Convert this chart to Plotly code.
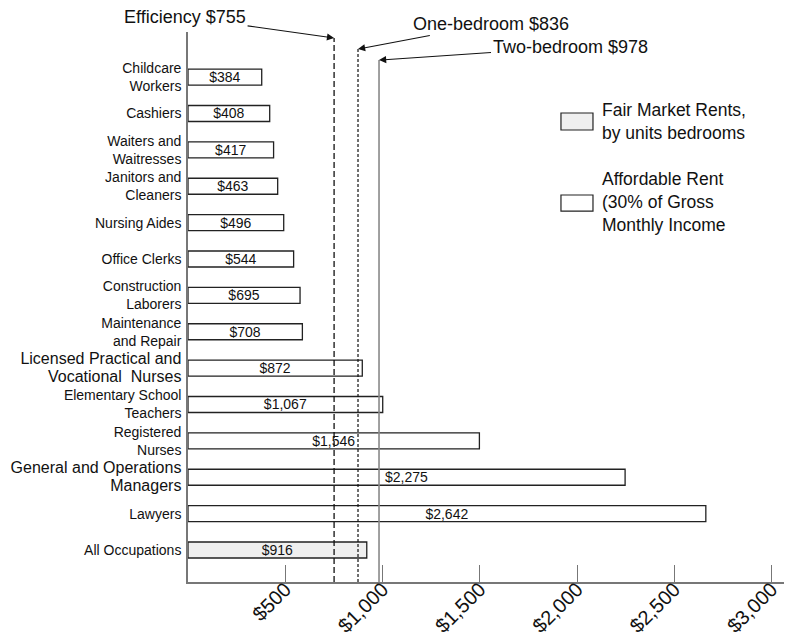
import plotly.graph_objects as go

# ---------------- data ----------------
occupations = [
    "Childcare<br>Workers",
    "Cashiers",
    "Waiters and<br>Waitresses",
    "Janitors and<br>Cleaners",
    "Nursing Aides",
    "Office Clerks",
    "Construction<br>Laborers",
    "Maintenance<br>and Repair",
    "<span style='font-size:16px'>Licensed Practical and</span><br><span style='font-size:16px'>Vocational\u00a0 Nurses</span>",
    "Elementary School<br>Teachers",
    "Registered<br>Nurses",
    "<span style='font-size:16px'>General and Operations</span><br><span style='font-size:16px'>Managers</span>",
    "Lawyers",
    "All Occupations",
]
# bar lengths as drawn in the picture
affordable_rent = [379, 420, 440, 461, 492, 543, 576, 588, 896, 1001, 1498, 2247, 2662, 919]
# value labels printed on the bars
rent_labels = ["$384", "$408", "$417", "$463", "$496", "$544", "$695", "$708",
               "$872", "$1,067", "$1,546", "$2,275", "$2,642", "$916"]

fmr_names = ["Efficiency $755", "One-bedroom $836", "Two-bedroom $978"]
fmr_values = [751, 874, 982]

x_ticks = [500, 1000, 1500, 2000, 2500, 3000]
x_tick_labels = ["$500", "$1,000", "$1,500", "$2,000", "$2,500", "$3,000"]

FONT = "Arial, Liberation Sans, sans-serif"

fills = ["white"] * (len(occupations) - 1) + ["#efefef"]

fig = go.Figure()
fig.add_trace(go.Bar(
    y=occupations,
    x=affordable_rent,
    orientation="h",
    width=0.44,
    marker=dict(color=fills, line=dict(color="#222222", width=1.3)),
    text=rent_labels,
    textposition="inside",
    insidetextanchor="middle",
    textangle=0,
    constraintext="none",
    textfont=dict(family=FONT, size=14, color="#111111"),
    hoverinfo="skip",
    showlegend=False,
))

# Fair market rent lines
line_styles = [
    dict(color="#111111", width=1.3, dash="6px,3px"),
    dict(color="#111111", width=1.2, dash="3px,2px"),
    dict(color="#888888", width=1.6, dash="solid"),
]
line_tops = [0.989, 0.969, 0.949]
label_offsets = [(-149, -21), (133, -25), (191, -13)]
for name, val, style, top, (ax, ay) in zip(fmr_names, fmr_values, line_styles, line_tops, label_offsets):
    fig.add_shape(type="line", xref="x", yref="paper", x0=val, x1=val, y0=0, y1=top,
                  line=style, layer="above")
    fig.add_annotation(x=val, y=top, xref="x", yref="paper", text=name,
                       showarrow=True, ax=ax, ay=ay, arrowhead=2, arrowsize=1.3,
                       arrowwidth=1.1, arrowcolor="#111111",
                       font=dict(family=FONT, size=18, color="#111111"))

# Legend built from shapes + text
fig.add_shape(type="rect", xref="paper", yref="paper", x0=0.6175, x1=0.6705, y0=0.8218, y1=0.8527,
              fillcolor="#efefef", line=dict(color="#222222", width=1.2))
fig.add_shape(type="rect", xref="paper", yref="paper", x0=0.6175, x1=0.6705, y0=0.6745, y1=0.7036,
              fillcolor="white", line=dict(color="#222222", width=1.2))
fig.add_annotation(x=0.682, y=0.838, xref="paper", yref="paper", xanchor="left", yanchor="middle",
                   align="left", showarrow=False,
                   text="Fair Market Rents,<br>by units bedrooms",
                   font=dict(family=FONT, size=17.5, color="#111111"))
fig.add_annotation(x=0.682, y=0.6915, xref="paper", yref="paper", xanchor="left", yanchor="middle",
                   align="left", showarrow=False,
                   text="Affordable Rent<br>(30% of Gross<br>Monthly Income",
                   font=dict(family=FONT, size=17.5, color="#111111"))

# page body adds an 8px offset, so margins are shifted accordingly
fig.update_layout(
    width=792, height=640,
    margin=dict(l=180, r=8, t=24, b=66, autoexpand=False),
    paper_bgcolor="white", plot_bgcolor="white",
    font=dict(family=FONT, color="#111111"),
    bargap=0.5,
)
fig.update_xaxes(
    range=[0, 3105], tickvals=x_ticks, ticktext=x_tick_labels, tickangle=-45,
    ticks="inside", ticklen=17, tickcolor="#777777", tickwidth=1.2,
    showline=True, linecolor="#777777", linewidth=1.6,
    showgrid=False, zeroline=False, automargin=False, ticklabelstandoff=-14,
    tickfont=dict(family=FONT, size=20, color="#111111"),
)
fig.update_yaxes(
    type="category", categoryorder="array", categoryarray=occupations[::-1],
    range=[-0.88, 14.24],
    showline=True, linecolor="#777777", linewidth=1.6,
    showgrid=False, zeroline=False, ticks="", ticklabelstandoff=2, automargin=False,
    tickfont=dict(family=FONT, size=14, color="#111111"),
)

fig.write_html("out.html")
